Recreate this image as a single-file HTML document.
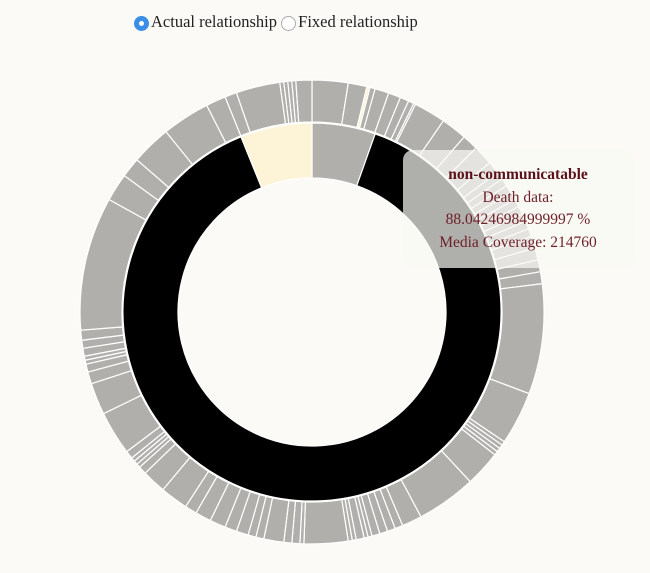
<!DOCTYPE html>
<html><head><meta charset="utf-8">
<style>
body{margin:0;background:#fbfaf6;width:650px;height:573px;overflow:hidden;position:relative;font-family:"Liberation Serif",serif;}
.radios{position:absolute;top:11px;left:134px;font-size:16.5px;color:#222;white-space:nowrap}
.radios span{display:inline-block;vertical-align:middle}
.r{width:15px;height:15px;border-radius:50%;box-sizing:border-box;display:inline-block;vertical-align:middle;margin-right:2px}
.r.on{background:#3b8ee8;border:4.5px solid #3b8ee8;box-shadow:inset 0 0 0 2.5px #3b8ee8}
.r.on::after{content:"";display:block;width:5px;height:5px;margin:0;border-radius:50%;background:#fff}
.r.off{border:1px solid #aaa;background:#fff}
.tip{position:absolute;left:403px;top:150px;width:232px;height:118px;border-radius:10px;background:rgba(250,249,245,0.7);color:#6e1f28;text-align:center;font-size:15.5px;line-height:22.5px;box-sizing:border-box;padding-top:14px;padding-right:2px}
.tip b{color:#5a1119}
</style></head><body>
<div class="radios">
<span><i class="r on" style="display:inline-flex;align-items:center;justify-content:center"></i>Actual relationship</span>
<span><i class="r off"></i>Fixed relationship</span>
</div>
<svg id="chart" width="650" height="573" style="position:absolute;left:0;top:0"></svg>
<div class="tip"><b>non-communicatable</b><br>Death data:<br>88.04246984999997 %<br>Media Coverage: 214760</div>
<script>
const innerCategories = ["other","non-communicatable","injuries"];
const innerValues = [5.4, 88.04, 6.1];
const innerColors = ["#b1afab","#000000","#fdf3d6"];
const outerValues = [9,4.7,0.8,1.3,3.5,3.1,2.2,1.4,0.5,8,6.5,4,5,3,2,2,2,2,2,2,2,2,2,3,3,3,3,27.6,13.4,1,1,1,1,9,15,5,2,2,2,2,1,1,2,1,1,11,1,2,2,5,2,2,3,3,4,4,3,7,6,2,1,1,1,2,11,8,3,2,1,1,2,2,2.5,33.5,7,5,10,12,5,3,11,1,1,1,1,4];
const outerHighlight = [2];
const cx=312, cy=312;
const svg=document.getElementById('chart');
const NS='http://www.w3.org/2000/svg';
function pt(r,a){return [cx+r*Math.sin(a),cy-r*Math.cos(a)];}
function arc(r0,r1,a0,a1){
  const large=(a1-a0)>Math.PI?1:0;
  const p0=pt(r1,a0),p1=pt(r1,a1),p2=pt(r0,a1),p3=pt(r0,a0);
  return `M${p0}A${r1},${r1} 0 ${large} 1 ${p1}L${p2}A${r0},${r0} 0 ${large} 0 ${p3}Z`;
}
function ring(values,r0,r1,colorFn,name){
  const total=values.reduce((a,b)=>a+b,0);
  let acc=0;
  values.forEach((v,i)=>{
    const a0=acc/total*2*Math.PI; acc+=v; const a1=acc/total*2*Math.PI;
    const p=document.createElementNS(NS,'path');
    p.setAttribute('d',arc(r0,r1,a0,a1));
    p.setAttribute('fill',colorFn(i));
    p.setAttribute('stroke','#ffffff');
    p.setAttribute('stroke-width','1.2');
    
    
    svg.appendChild(p);
  });
}
ring(innerValues,134,189,i=>innerColors[i],'inner-slice');
ring(outerValues,190,232,i=>outerHighlight.includes(i)?'#fdf3d6':'#b1afab','outer-slice');
</script>
</body></html>
